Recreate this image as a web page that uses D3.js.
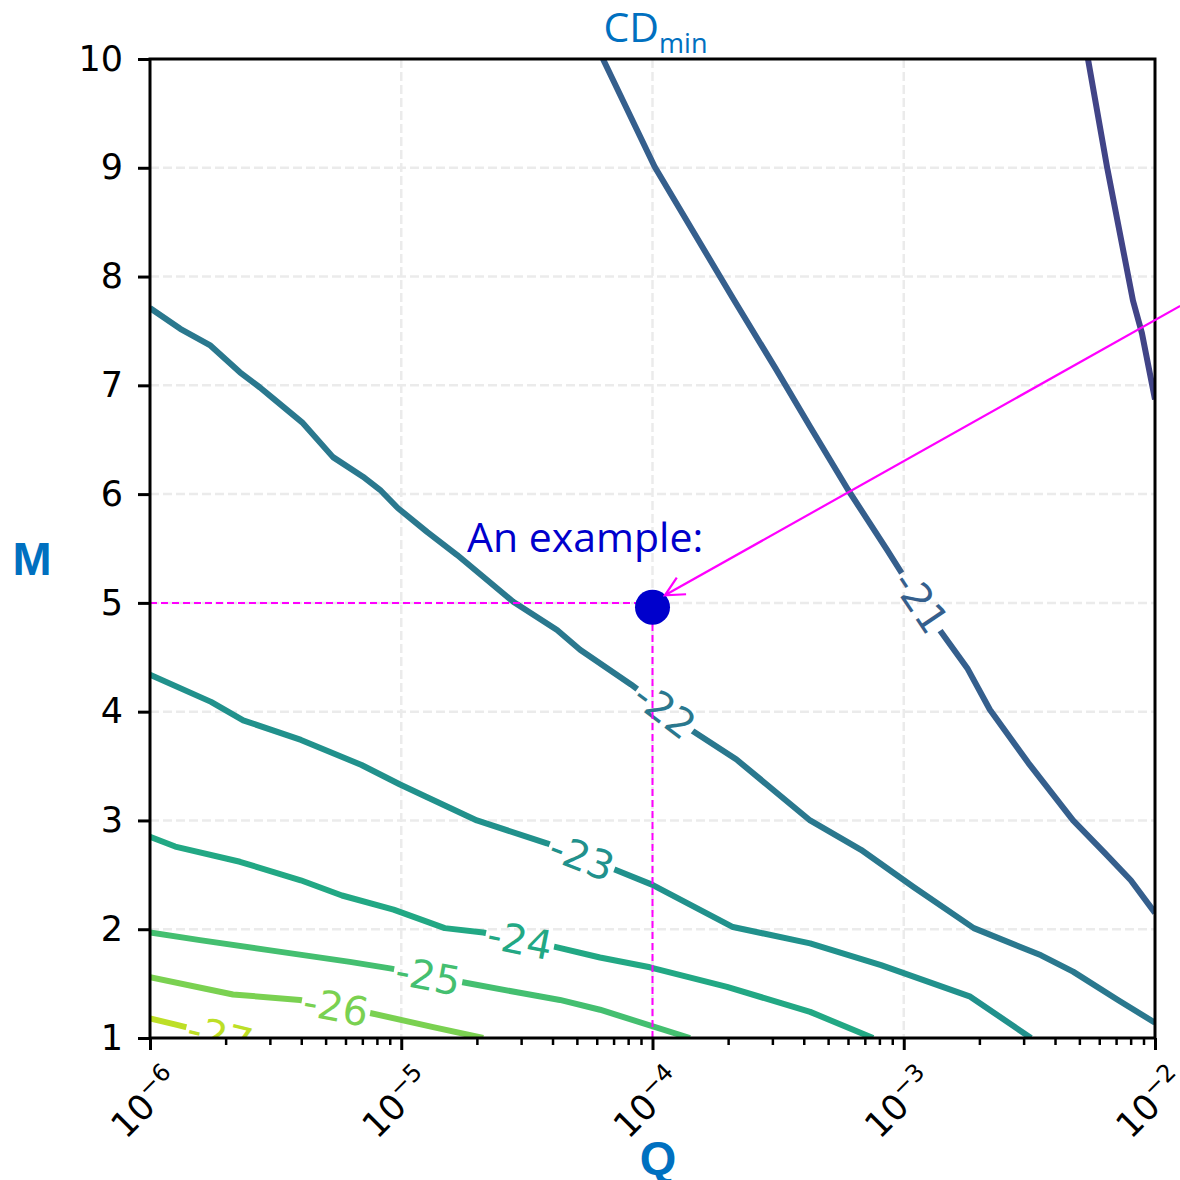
<!DOCTYPE html>
<html lang="en">
<head>
<meta charset="UTF-8">
<title>CDmin contours</title>
<script src="https://d3js.org/d3.v7.min.js"></script>
<style>
  body { margin: 0; background: #fff; }
  svg { display: block; }
</style>
</head>
<body>
<svg width="1180" height="1180"></svg>
<script>
// contour levels, and the points [Q, M]
var levels = [-20, -21, -22, -23, -24, -25, -26, -27];

var line20 = [[5.41e-3, 10.0], [6.44e-3, 9.01], [8.17e-3, 7.78], [8.87e-3, 7.48], [1e-2, 6.87]];
var line21 = [[6.35e-5, 10.0], [1.02e-4, 9.01], [2.09e-4, 7.80], [3.08e-4, 7.16], [4.24e-4, 6.62],
  [6.00e-4, 6.04], [8.57e-4, 5.49], [9.84e-4, 5.27], [1.39e-3, 4.75], [1.79e-3, 4.40],
  [2.20e-3, 4.02], [3.13e-3, 3.53], [4.72e-3, 3.00], [6.32e-3, 2.70], [8.01e-3, 2.45], [1e-2, 2.15]];
var line22 = [[1e-6, 7.71], [1.32e-6, 7.52], [1.73e-6, 7.37], [2.28e-6, 7.12], [2.74e-6, 6.98],
  [3.09e-6, 6.88], [4.03e-6, 6.66], [5.35e-6, 6.34], [7.04e-6, 6.16], [8.23e-6, 6.04],
  [9.71e-6, 5.87], [1.27e-5, 5.65], [1.67e-5, 5.44], [2.12e-5, 5.24], [2.79e-5, 5.01],
  [4.17e-5, 4.75], [5.15e-5, 4.57], [8.21e-5, 4.25], [1.43e-4, 3.83], [2.16e-4, 3.56],
  [4.24e-4, 3.00], [6.76e-4, 2.73], [1.09e-3, 2.39], [1.90e-3, 2.01], [3.52e-3, 1.76],
  [4.72e-3, 1.61], [7.12e-3, 1.35], [1e-2, 1.14]];
var line23 = [[1e-6, 4.34], [1.75e-6, 4.09], [2.35e-6, 3.92], [3.99e-6, 3.74], [6.95e-6, 3.51],
  [9.89e-6, 3.33], [1.25e-5, 3.22], [2.00e-5, 3.00], [3.80e-5, 2.79], [6.87e-5, 2.56],
  [9.95e-5, 2.41], [2.09e-4, 2.02], [4.24e-4, 1.87], [8.12e-4, 1.67], [1.84e-3, 1.38], [3.21e-3, 1.0]];
var line24 = [[1e-6, 2.85], [1.26e-6, 2.76], [2.28e-6, 2.62], [3.98e-6, 2.45], [5.81e-6, 2.31],
  [9.32e-6, 2.18], [1.49e-5, 2.01], [2.12e-5, 1.97], [4.06e-5, 1.84], [6.18e-5, 1.74],
  [9.77e-5, 1.65], [1.98e-4, 1.47], [4.24e-4, 1.24], [7.55e-4, 1.0]];
var line25 = [[1e-6, 1.97], [1.58e-6, 1.90], [2.92e-6, 1.81], [6.25e-6, 1.70], [9.02e-6, 1.64],
  [1.78e-5, 1.51], [2.89e-5, 1.42], [4.28e-5, 1.35], [6.18e-5, 1.26], [1.41e-4, 1.0]];
var line26 = [[1e-6, 1.56], [2.14e-6, 1.40], [3.95e-6, 1.35], [7.51e-6, 1.23], [1.34e-5, 1.10], [2.12e-5, 1.0]];
var line27 = [[1e-6, 1.18], [1.28e-6, 1.12], [2.74e-6, 0.93]];

// Q where each inline label sits (null = no label)
var labelQ = [null, 1.17e-3, 1.12e-4, 5.24e-5, 2.97e-5, 1.28e-5, 5.50e-6, 1.90e-6];

// axes
var xDecades = [1e-6, 1e-5, 1e-4, 1e-3, 1e-2];
var xExponents = ["\u22126", "\u22125", "\u22124", "\u22123", "\u22122"];
var yTicks = [1, 2, 3, 4, 5, 6, 7, 8, 9, 10];

// the worked example
var examplePoint = [1e-4, 4.96];
var exampleGuideM = 5.0;
var arrowFrom = [1.26e-2, 7.73];
var arrowTo = [1.12e-4, 5.07];

var contours = levels.map(function(lv, i) {
  return { level: lv, points: [line20, line21, line22, line23, line24, line25, line26, line27][i], labelQ: labelQ[i] };
});

var margin = {top: 59, right: 25, bottom: 142, left: 150};
var width = 1180 - margin.left - margin.right;
var height = 1180 - margin.top - margin.bottom;

var svg = d3.select("svg");
var defs = svg.append("defs");
var g = svg.append("g").attr("transform", "translate(" + margin.left + "," + margin.top + ")");

var x = d3.scaleLog().domain([1e-6, 1e-2]).range([0, width]);
var y = d3.scaleLinear().domain([1, 10]).range([height, 0]);
var color = d3.scaleSequential(d3.interpolateViridis).domain([-18, -28]);

defs.append("clipPath").attr("id", "plotClip")
  .append("rect").attr("width", width).attr("height", height);

var mask = defs.append("mask").attr("id", "labelGaps")
  .attr("maskUnits", "userSpaceOnUse")
  .attr("x", -300).attr("y", -300).attr("width", 1800).attr("height", 1800);
mask.append("rect").attr("x", -300).attr("y", -300).attr("width", 1800).attr("height", 1800).attr("fill", "white");

// grid
var grid = g.append("g")
  .attr("stroke", "#ebebeb").attr("stroke-width", 2.5).attr("stroke-dasharray", "9,4");
grid.selectAll(".gx").data(xDecades.slice(1, -1)).enter().append("line")
  .attr("x1", function(d) { return x(d); }).attr("x2", function(d) { return x(d); })
  .attr("y1", 0).attr("y2", height);
grid.selectAll(".gy").data(yTicks.slice(1, -1)).enter().append("line")
  .attr("y1", function(d) { return y(d); }).attr("y2", function(d) { return y(d); })
  .attr("x1", 0).attr("x2", width);

// contours
var plot = g.append("g").attr("clip-path", "url(#plotClip)");
var linesG = plot.append("g").attr("mask", "url(#labelGaps)");
var line = d3.line().x(function(d) { return x(d[0]); }).y(function(d) { return y(d[1]); });

linesG.selectAll("path").data(contours).enter().append("path")
  .attr("d", function(d) { return line(d.points); })
  .attr("fill", "none")
  .attr("stroke", function(d) { return color(d.level); })
  .attr("stroke-width", 6)
  .attr("stroke-linejoin", "round");

function placeOnLine(pts, q) {
  var px = x(q);
  for (var i = 0; i < pts.length - 1; i++) {
    var x0 = x(pts[i][0]), x1 = x(pts[i + 1][0]);
    if (px >= x0 && px <= x1) {
      var y0 = y(pts[i][1]), y1 = y(pts[i + 1][1]);
      var t = (px - x0) / (x1 - x0);
      return { x: px, y: y0 + t * (y1 - y0), angle: Math.atan2(y1 - y0, x1 - x0) * 180 / Math.PI };
    }
  }
  return null;
}

contours.filter(function(d) { return d.labelQ; }).forEach(function(c) {
  var p = placeOnLine(c.points, c.labelQ);
  var tr = "translate(" + p.x + "," + p.y + ") rotate(" + p.angle + ")";
  var txt = plot.append("text")
    .attr("transform", tr)
    .attr("text-anchor", "middle")
    .attr("dy", "0.36em")
    .style("font-family", "DejaVu Sans")
    .style("font-size", "40px")
    .attr("fill", color(c.level))
    .text("-" + Math.abs(c.level));
  var w = txt.node().getComputedTextLength();
  mask.append("rect")
    .attr("transform", tr)
    .attr("x", -w / 2 - 2).attr("y", -16)
    .attr("width", w + 4).attr("height", 32)
    .attr("fill", "black");
});

// example guides and point
g.append("line")
  .attr("x1", x(1e-6)).attr("x2", x(examplePoint[0]))
  .attr("y1", y(exampleGuideM)).attr("y2", y(exampleGuideM))
  .attr("stroke", "#ff00ff").attr("stroke-width", 2).attr("stroke-dasharray", "7,4");
g.append("line")
  .attr("x1", x(examplePoint[0])).attr("x2", x(examplePoint[0]))
  .attr("y1", y(1)).attr("y2", y(examplePoint[1]))
  .attr("stroke", "#ff00ff").attr("stroke-width", 2).attr("stroke-dasharray", "7,4");
g.append("circle")
  .attr("cx", x(examplePoint[0])).attr("cy", y(examplePoint[1]))
  .attr("r", 17.5).attr("fill", "#0000cc");

// spines
g.append("rect").attr("width", width).attr("height", height)
  .attr("fill", "none").attr("stroke", "black").attr("stroke-width", 3);

// y axis
var yAxis = g.append("g")
  .call(d3.axisLeft(y).tickValues(yTicks).tickSize(12).tickPadding(15).tickFormat(d3.format("d")));
yAxis.select(".domain").remove();
yAxis.selectAll("line").attr("stroke-width", 3);
yAxis.selectAll("text").style("font-family", "DejaVu Sans").style("font-size", "35px").attr("fill", "black");

// x axis
var minors = [];
xDecades.slice(0, -1).forEach(function(d) { for (var k = 2; k < 10; k++) minors.push(d * k); });
var xMinor = g.append("g").attr("transform", "translate(0," + height + ")")
  .call(d3.axisBottom(x).tickValues(minors).tickSize(7).tickFormat(""));
xMinor.select(".domain").remove();
xMinor.selectAll("line").attr("stroke-width", 2.5);
var xAxis = g.append("g").attr("transform", "translate(0," + height + ")")
  .call(d3.axisBottom(x).tickValues(xDecades).tickSize(12).tickFormat(""));
xAxis.select(".domain").remove();
xAxis.selectAll("line").attr("stroke-width", 3);

xDecades.forEach(function(d, i) {
  var lab = g.append("g");
  var t = lab.append("text").attr("transform", "rotate(-45)")
    .style("font-family", "DejaVu Sans").attr("fill", "black");
  t.append("tspan").style("font-size", "35px").text("10");
  t.append("tspan").style("font-size", "24px").attr("dy", -14).text(xExponents[i]);
  var bb = lab.node().getBBox();
  lab.attr("transform", "translate(" + (x(d) - 6 - (bb.x + bb.width / 2)) + "," + (height + 20 - bb.y) + ")");
});

// axis titles
svg.append("text")
  .attr("x", 32).attr("y", 575)
  .attr("text-anchor", "middle")
  .style("font-family", "Liberation Sans").style("font-weight", "bold").style("font-size", "47px")
  .attr("fill", "#0070c0").text("M");
svg.append("text")
  .attr("x", 658).attr("y", 1174)
  .attr("text-anchor", "middle")
  .style("font-family", "Liberation Sans").style("font-weight", "bold").style("font-size", "47px")
  .attr("fill", "#0070c0").text("Q");

var title = svg.append("text")
  .attr("x", margin.left + width / 2 + 3).attr("y", 42)
  .attr("text-anchor", "middle")
  .style("font-family", "Open Sans")
  .attr("fill", "#0070c0");
title.append("tspan").style("font-size", "41px").text("CD");
title.append("tspan").style("font-size", "27px").attr("dy", 11).text("min");

svg.append("text")
  .attr("x", 467).attr("y", 552)
  .style("font-family", "Open Sans").style("font-size", "41px")
  .attr("fill", "#0000cc").text("An example:");

// arrow
defs.append("marker").attr("id", "head")
  .attr("markerUnits", "userSpaceOnUse")
  .attr("viewBox", "-22 -12 24 24")
  .attr("markerWidth", 24).attr("markerHeight", 24)
  .attr("refX", 0).attr("refY", 0)
  .attr("orient", "auto")
  .append("path").attr("d", "M-19,-9.5L0,0L-19,9.5")
  .attr("fill", "none").attr("stroke", "#ff00ff").attr("stroke-width", 2.2);
g.append("line")
  .attr("x1", x(arrowFrom[0])).attr("y1", y(arrowFrom[1]))
  .attr("x2", x(arrowTo[0])).attr("y2", y(arrowTo[1]))
  .attr("stroke", "#ff00ff").attr("stroke-width", 2.2)
  .attr("marker-end", "url(#head)");
</script>
</body>
</html>
